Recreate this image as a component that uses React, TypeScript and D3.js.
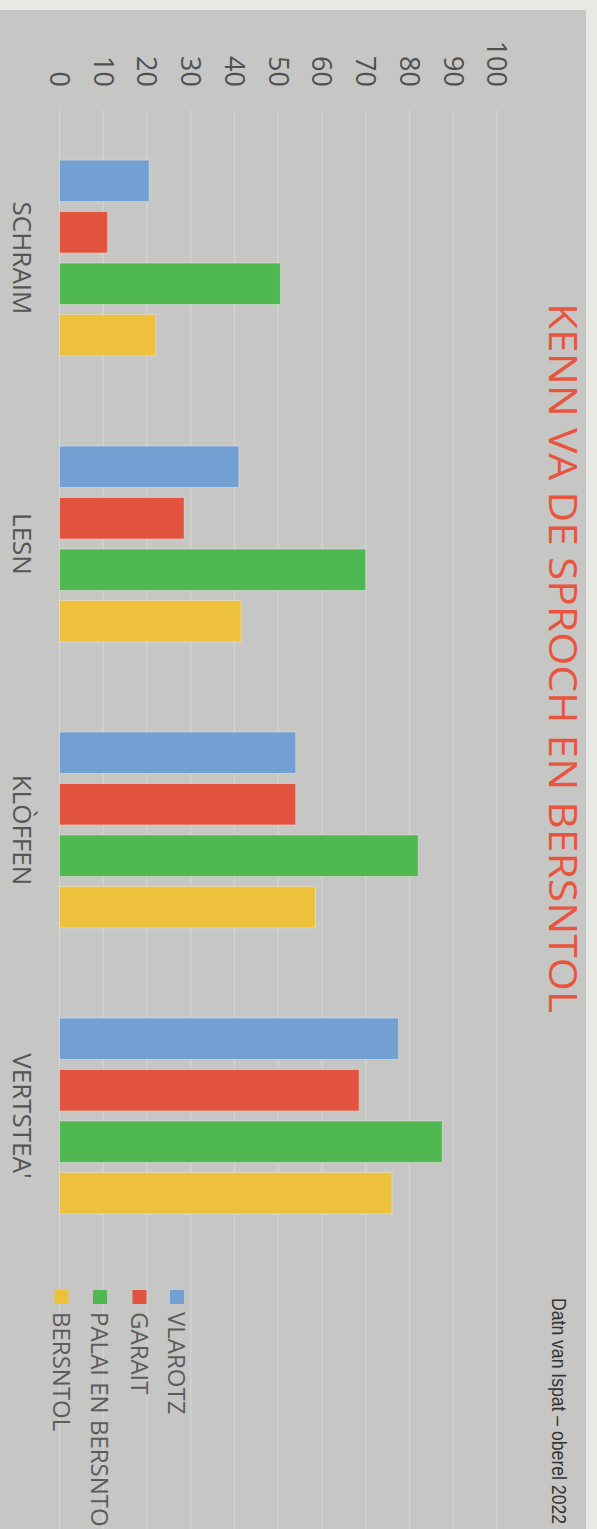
import { useEffect, useRef } from 'react';
import * as d3 from 'd3';

// data
const categories = ['SCHRAIM', 'LESN', 'KLÒFFEN', "VERTSTEA'"];
const seriesNames = ['VLAROTZ', 'GARAIT', 'PALAI EN BERSNTOL', 'BERSNTOL'];
const vlarotz = [20.5, 41, 54, 77.5];
const garait = [11, 28.5, 54, 68.5];
const palai = [50.5, 70, 82, 87.5];
const bersntol = [22, 41.5, 58.5, 76];
const tickValues = [0, 10, 20, 30, 40, 50, 60, 70, 80, 90, 100];
const colors = ['#72a0d2', '#e2543f', '#50b851', '#eec13d'];

const title = 'KENN VA DE SPROCH EN BERSNTOL';
const source = 'Datn van Ispat – oberel 2022';

const W = 597;
const H = 1529;

export default function App() {
  const ref = useRef<SVGSVGElement | null>(null);

  useEffect(() => {
    const svg = d3.select(ref.current);
    svg.selectAll('*').remove();

    svg.append('rect').attr('width', W).attr('height', H).attr('fill', '#e8e8e5');

    // the chart is printed turned by a quarter: draw it upright and rotate
    const g = svg.append('g').attr('transform', `translate(${W},0) rotate(90)`);
    const innerW = H;
    const innerH = W;

    g.append('rect')
      .attr('x', 10)
      .attr('y', 11)
      .attr('width', innerW - 10)
      .attr('height', innerH - 11)
      .attr('fill', '#c6c7c5');

    const y = d3.scaleLinear().domain([0, 100]).range([innerH - 59.5, innerH - 497]);
    const x0 = d3.scaleBand<string>().domain(categories).range([70, 1304]).padding(0.315);
    const x1 = d3
      .scaleBand<string>()
      .domain(seriesNames)
      .range([0, x0.bandwidth()])
      .paddingInner(0.194);
    const color = d3.scaleOrdinal<string, string>().domain(seriesNames).range(colors);

    // gridlines
    g.append('g')
      .selectAll('line')
      .data(tickValues)
      .enter()
      .append('line')
      .attr('x1', 110)
      .attr('x2', innerW)
      .attr('y1', d => y(d))
      .attr('y2', d => y(d))
      .attr('stroke', '#d4d5d2')
      .attr('stroke-width', 1.2);

    // tick labels
    g.append('g')
      .selectAll('text')
      .data(tickValues)
      .enter()
      .append('text')
      .attr('x', 87)
      .attr('y', d => y(d))
      .attr('dy', '0.36em')
      .attr('text-anchor', 'end')
      .attr('font-family', 'Open Sans, sans-serif')
      .attr('font-size', 27)
      .attr('fill', '#505050')
      .text(d => d);

    // bars
    const table = categories.map((c, i) => ({
      category: c,
      values: [vlarotz[i], garait[i], palai[i], bersntol[i]],
    }));

    const groups = g
      .append('g')
      .selectAll('g')
      .data(table)
      .enter()
      .append('g')
      .attr('transform', d => `translate(${x0(d.category)},0)`);

    groups
      .selectAll('rect')
      .data(d => d.values.map((v, i) => ({ name: seriesNames[i], value: v })))
      .enter()
      .append('rect')
      .attr('x', d => x1(d.name) as number)
      .attr('width', x1.bandwidth())
      .attr('y', d => y(d.value))
      .attr('height', d => y(0) - y(d.value))
      .attr('fill', d => color(d.name))
      .attr('stroke', 'rgba(235,235,230,0.5)')
      .attr('stroke-width', 1);

    // category labels
    g.append('g')
      .selectAll('text')
      .data(categories)
      .enter()
      .append('text')
      .attr('x', d => (x0(d) as number) + x0.bandwidth() / 2)
      .attr('y', innerH - 13)
      .attr('text-anchor', 'middle')
      .attr('font-family', 'Open Sans, sans-serif')
      .attr('font-size', 26)
      .attr('fill', '#555')
      .text(d => d);

    // title
    g.append('text')
      .attr('x', 658)
      .attr('y', innerH - 549)
      .attr('text-anchor', 'middle')
      .attr('font-family', 'Open Sans, sans-serif')
      .attr('font-size', 39)
      .attr('fill', '#e8553f')
      .attr('textLength', 710)
      .attr('lengthAdjust', 'spacingAndGlyphs')
      .text(title);

    // legend
    const legendY = [420, 457.5, 497, 535.5];
    const legend = g
      .append('g')
      .selectAll('g')
      .data(seriesNames)
      .enter()
      .append('g')
      .attr('transform', (d, i) => `translate(1290,${legendY[i]})`);

    legend
      .append('rect')
      .attr('x', 0)
      .attr('y', -7)
      .attr('width', 14)
      .attr('height', 14)
      .attr('fill', d => color(d));

    legend
      .append('text')
      .attr('x', 22)
      .attr('y', 0)
      .attr('dy', '0.36em')
      .attr('font-family', 'Open Sans, sans-serif')
      .attr('font-size', 24)
      .attr('fill', '#5c5c5c')
      .text(d => d);

    // source
    g.append('text')
      .attr('x', 1298)
      .attr('y', innerH - 552)
      .attr('font-family', 'Liberation Sans, Arial, sans-serif')
      .attr('font-size', 21)
      .attr('fill', '#333')
      .attr('textLength', 226)
      .attr('lengthAdjust', 'spacingAndGlyphs')
      .text(source);
  }, []);

  return (
    <svg
      ref={ref}
      width={W}
      height={H}
      style={{ position: 'absolute', left: 0, top: 0 }}
    ></svg>
  );
}
